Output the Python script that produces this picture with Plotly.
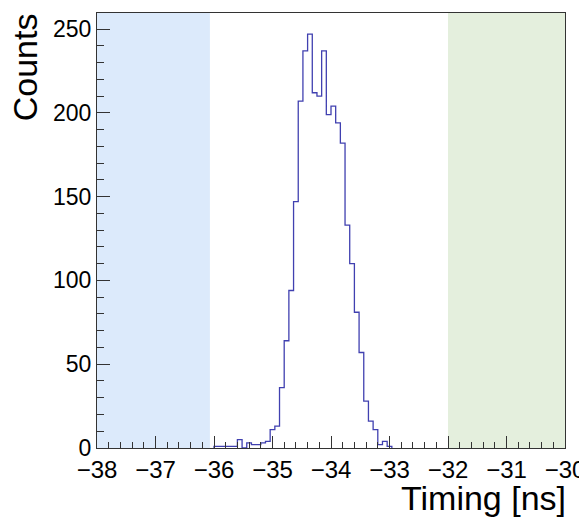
import numpy as np
import plotly.graph_objects as go

# histogram: 0.08 ns bins, first filled bin starts at -36 ns
BIN_START = -36.0
BIN_WIDTH = 0.08
COUNTS = [1, 1, 1, 1, 1, 5, 0, 3, 2, 2, 3, 4, 11, 13, 36, 64, 94, 147, 207, 237,
          247, 212, 210, 237, 199, 204, 194, 182, 133, 110, 81, 57, 28, 16, 11, 2, 4, 1]

# shaded sidebands
LEFT_BAND = (-38.0, -36.07)
RIGHT_BAND = (-32.0, -30.0)

X_RANGE = [-38, -30]
Y_MAX = 259.6

FONT = "Liberation Sans, Arial, Helvetica, sans-serif"

edges = BIN_START + BIN_WIDTH * np.arange(len(COUNTS) + 1)
xs = np.concatenate([[edges[0]], edges[:-1], [edges[-1], edges[-1]]])
ys = np.concatenate([[0], COUNTS, [COUNTS[-1], 0]])

fig = go.Figure()
fig.add_trace(go.Scatter(
    x=xs, y=ys, mode="lines", line_shape="hv",
    line=dict(color="#4040b0", width=1.3),
    hoverinfo="skip", showlegend=False
))

fig.add_shape(type="rect", xref="x", yref="paper", x0=LEFT_BAND[0], x1=LEFT_BAND[1],
              y0=0, y1=1, fillcolor="#dceafb", line_width=0, layer="below")
fig.add_shape(type="rect", xref="x", yref="paper", x0=RIGHT_BAND[0], x1=RIGHT_BAND[1],
              y0=0, y1=1, fillcolor="#e4efdd", line_width=0, layer="below")

axis_common = dict(
    showgrid=False, zeroline=False, showline=True, linecolor="#333333", linewidth=1,
    mirror=True, ticks="inside", tickcolor="#333333", tickwidth=1, automargin=False,
)

fig.update_xaxes(range=X_RANGE, dtick=1, tick0=-38, ticklen=12,
                 tickfont=dict(family=FONT, size=24, color="black"),
                 minor=dict(ticks="inside", dtick=0.2, ticklen=6, tickcolor="#333333"),
                 **axis_common)
fig.update_yaxes(range=[0, Y_MAX], dtick=50, tick0=0, ticklen=13,
                 tickfont=dict(family=FONT, size=23, color="black"),
                 minor=dict(ticks="inside", dtick=10, ticklen=7, tickcolor="#333333"),
                 **axis_common)

fig.add_annotation(text="Counts", xref="paper", yref="paper", x=-0.155, y=1.005,
                   xanchor="center", yanchor="top", textangle=-90, showarrow=False,
                   font=dict(family=FONT, size=34, color="black"))
fig.add_annotation(text="Timing [ns]", xref="paper", yref="paper", x=1.006, y=-0.115,
                   xanchor="right", yanchor="middle", showarrow=False,
                   font=dict(family=FONT, size=34, color="black"))

# page body adds ~8px offset, so margins are shifted to land the frame where the reference has it
fig.update_layout(
    width=587, height=520,
    margin=dict(l=89, r=30, t=5, b=80),
    paper_bgcolor="white", plot_bgcolor="white",
    font=dict(family=FONT, color="black"),
)

fig.write_html("out.html")
